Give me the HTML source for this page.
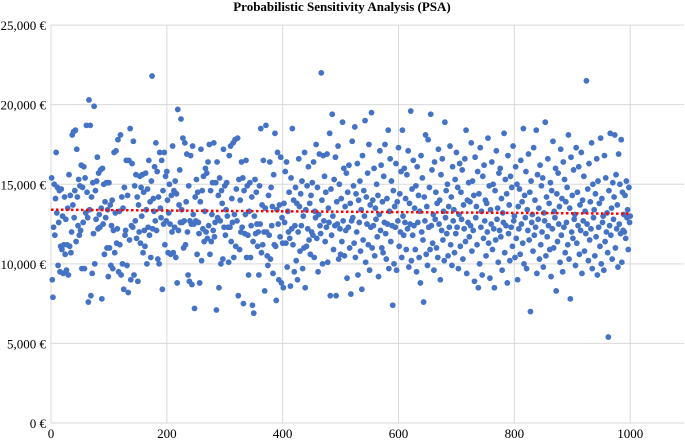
<!DOCTYPE html>
<html><head><meta charset="utf-8"><style>
html,body{margin:0;padding:0;background:#fff;}
svg{display:block;font-family:"Liberation Serif",serif;}
</style></head><body>
<svg id="chart" width="685" height="441">
<text x="342" y="11" text-anchor="middle" font-size="13" font-weight="bold">Probabilistic Sensitivity Analysis (PSA)</text>
<g id="grid"></g><g id="pts"></g><g id="trend"></g><g id="labels"></g>
</svg>
<script>
const xTicks=[0,200,400,600,800,1000];
const yTicks=[0,5000,10000,15000,20000,25000];
const yTickLabels=["0 €","5,000 €","10,000 €","15,000 €","20,000 €","25,000 €"];
const iterations=1000;
const trendStart=13400, trendEnd=13150;
const costs=[
15.4,9.0,7.9,12.3,15.0,11.8,14.1,17.0,13.2,14.8,9.9,12.6,14.6,9.5,11.1,14.7,10.9,13.0,9.4,11.2,14.2,10.6,12.8,9.6,11.2,
13.5,9.3,15.6,11.1,14.3,10.7,12.0,18.1,13.7,18.3,12.9,14.6,18.4,11.4,17.2,14.2,12.4,15.3,11.8,14.9,12.1,16.2,9.7,14.8,12.6,
16.1,9.7,15.4,13.2,18.7,14.5,12.9,7.6,20.3,13.4,18.7,8.0,14.2,9.4,15.1,11.9,19.9,10.0,14.6,12.8,15.2,16.7,12.2,15.7,13.1,
12.3,15.9,13.5,7.8,16.0,12.5,15.0,10.6,13.9,12.9,15.1,11.0,13.4,9.2,15.1,11.0,13.7,9.9,12.4,14.0,9.7,12.1,17.0,10.7,13.2,
17.1,11.3,12.2,17.8,9.5,13.3,11.2,18.1,9.3,14.2,10.0,13.5,8.4,14.8,11.8,12.1,16.5,9.9,14.3,8.2,16.5,11.5,18.5,9.0,12.4,
16.3,12.3,17.7,9.3,14.9,12.7,15.6,11.6,14.2,8.9,13.7,12.0,15.5,11.3,14.8,13.0,15.6,10.7,14.5,12.1,11.1,15.7,13.4,10.0,14.7,
12.3,16.5,11.8,13.9,10.4,15.2,21.8,12.2,14.1,13.3,16.1,12.7,17.6,12.1,15.8,10.3,14.2,10.0,17.0,13.5,12.9,16.5,8.4,14.6,12.5,
17.0,11.2,15.5,12.7,15.8,14.0,10.7,13.2,15.0,12.5,10.6,14.3,12.0,17.4,10.7,14.6,12.3,15.2,10.4,14.4,8.8,19.7,12.1,13.7,15.9,
12.6,19.1,13.4,12.6,17.9,11.0,12.7,17.6,11.2,13.9,16.9,12.0,9.3,14.9,8.9,12.7,16.8,12.5,8.7,17.4,13.1,12.5,7.2,14.2,12.7,
15.3,10.6,14.5,12.6,11.9,8.8,13.9,17.2,10.2,14.6,12.2,15.5,11.4,13.3,16.0,12.0,15.7,11.6,16.4,12.4,17.5,10.6,14.6,11.4,13.1,
15.1,12.1,17.6,11.7,12.6,15.1,7.1,16.4,12.9,14.3,8.5,15.4,12.7,10.0,14.6,13.8,10.3,17.2,12.3,14.9,11.8,13.4,15.1,13.0,12.3,
10.1,16.8,12.3,17.4,11.4,14.1,12.6,17.6,10.4,13.1,17.8,11.1,14.7,12.7,17.9,8.0,15.3,10.9,14.0,12.0,16.4,12.3,15.4,7.5,14.6,
11.9,13.1,16.5,10.4,14.9,11.8,9.3,13.3,15.1,10.4,12.4,14.2,7.4,11.4,6.9,13.0,15.3,11.9,14.5,12.5,11.1,12.0,9.3,14.9,12.5,
18.5,10.7,13.7,11.2,16.5,12.0,8.3,13.5,18.7,12.0,10.5,9.9,14.3,11.8,16.4,10.3,14.8,12.4,13.6,9.4,15.6,11.2,18.2,11.1,7.7,
13.4,17.0,12.5,9.0,13.7,11.7,16.7,8.8,12.9,11.3,8.5,13.8,12.6,15.8,11.3,16.4,9.8,13.3,12.0,14.5,11.6,8.6,15.4,12.2,18.5,
11.2,14.0,9.5,12.4,14.8,10.2,13.8,9.0,12.0,16.6,13.6,10.8,14.4,12.4,15.2,9.7,13.0,11.0,17.0,8.5,13.4,11.1,14.9,12.2,16.1,
11.5,13.8,10.6,14.3,12.0,15.1,11.8,16.4,10.4,13.3,12.9,17.5,11.6,14.8,9.5,13.1,16.9,12.4,11.9,22.0,14.0,10.0,16.8,12.7,15.5,
11.4,14.5,12.3,16.9,10.1,13.5,12.6,18.2,8.0,14.7,11.8,19.4,13.0,10.9,15.3,12.4,16.7,8.0,13.9,12.5,17.4,10.3,15.0,12.2,10.6,
14.1,11.4,18.9,12.7,16.0,10.5,13.6,12.1,15.7,9.1,14.5,12.3,16.2,11.0,13.8,8.1,12.7,17.7,12.9,14.9,11.3,18.6,10.4,14.4,12.0,
16.3,9.3,14.0,12.6,15.2,10.8,13.4,8.4,16.8,11.5,14.6,13.0,19.0,10.1,14.2,12.5,15.7,11.2,17.5,9.6,13.7,12.3,19.5,11.0,14.0,
12.4,16.0,10.5,13.5,12.8,15.0,11.7,14.3,9.2,13.1,17.1,12.1,16.2,11.0,13.9,10.7,15.5,12.6,17.5,11.9,10.3,14.1,12.5,18.4,9.7,
13.3,16.6,11.4,15.2,12.4,7.4,14.6,10.0,13.6,12.3,16.3,9.6,13.9,12.7,17.3,11.1,14.4,12.0,15.8,10.4,18.4,13.0,11.8,16.0,12.6,
14.1,10.9,15.6,12.2,17.1,9.8,13.8,12.5,19.6,10.2,14.7,11.8,16.5,12.4,13.5,10.9,14.9,9.5,16.1,12.6,14.3,10.4,13.3,8.8,16.8,
12.0,15.4,11.5,7.6,14.2,12.7,18.1,10.6,13.6,9.9,17.8,12.3,14.8,10.9,19.4,12.4,15.9,11.3,13.1,9.6,16.4,12.8,14.5,11.0,13.8,
10.4,17.2,12.5,14.0,9.0,15.6,12.1,16.6,11.5,13.3,10.2,18.9,12.9,14.6,11.9,15.0,10.5,13.6,12.3,17.4,11.2,14.2,9.9,16.1,12.7,
13.4,10.7,15.3,11.9,17.0,12.3,14.8,9.7,13.1,16.3,11.1,14.5,12.8,15.9,10.3,13.7,12.2,16.6,11.4,18.4,9.4,14.0,12.6,15.1,11.7,
13.9,12.4,17.6,10.8,15.2,12.1,14.3,8.9,16.7,12.9,13.6,11.2,15.8,8.5,14.4,10.0,17.3,12.3,13.3,9.3,15.5,11.6,16.2,12.7,14.0,
10.5,13.8,12.0,17.9,11.3,14.9,9.1,13.4,12.5,16.4,10.9,15.0,12.2,8.5,14.6,11.5,17.1,12.8,13.5,10.1,15.7,12.1,16.0,11.7,14.1,
9.6,13.2,12.6,18.2,10.7,15.3,12.4,14.4,8.8,16.8,11.9,13.7,10.2,15.5,12.3,14.8,11.1,17.4,12.7,13.0,10.4,16.1,11.6,15.0,9.0,
13.6,12.2,14.7,10.6,16.5,12.5,13.9,11.3,18.5,10.0,14.3,12.9,15.8,9.7,13.4,12.1,16.9,11.5,14.5,7.0,15.2,12.6,13.1,10.8,17.3,
11.8,14.0,12.3,18.4,9.4,15.6,12.8,13.5,10.3,16.2,11.2,14.9,12.0,15.4,9.8,13.2,12.7,18.9,10.5,14.2,11.7,16.6,12.4,13.8,10.9,
15.1,9.2,14.6,12.2,17.7,11.0,13.3,12.9,16.0,8.3,14.4,11.4,15.7,12.5,13.6,10.1,17.2,11.8,14.1,9.5,16.4,12.3,15.3,10.7,13.9,
12.6,14.8,11.2,18.1,10.3,13.5,7.8,16.7,12.0,14.3,11.6,15.9,12.8,13.1,9.9,17.3,11.3,14.5,12.4,16.1,10.6,13.7,12.1,17.0,9.4,
14.0,12.7,15.5,10.8,13.3,11.9,21.5,12.5,14.7,10.2,16.3,11.5,13.9,12.2,17.6,9.7,15.0,12.9,13.4,10.5,14.4,11.7,16.6,9.3,15.2,
12.3,13.8,11.1,17.9,10.0,14.1,12.6,13.0,9.6,16.8,11.4,15.4,12.0,13.2,10.7,5.4,14.6,12.4,18.2,11.8,13.5,10.3,15.1,12.8,14.2,
18.1,11.0,15.6,12.2,13.7,9.8,16.9,12.5,15.0,11.9,17.8,10.1,14.5,12.1,13.1,12.0,14.3,11.6,15.2,12.9,13.4,10.9,14.8,12.6,13.0
];
const sx=v=>51+v*0.5792, sy=v=>423-v*0.015916;
const NS="http://www.w3.org/2000/svg";
const grid=document.getElementById('grid'), labels=document.getElementById('labels');
function mk(tag,attrs,parent){const e=document.createElementNS(NS,tag);for(const k in attrs)e.setAttribute(k,attrs[k]);parent.appendChild(e);return e;}
yTicks.forEach((t,i)=>{
  const l=mk('line',{x1:51,x2:684,y1:sy(t),y2:sy(t),stroke:'#d9d9d9','stroke-width':1},grid);
  
  
  const tx=mk('text',{x:46,y:sy(t)+5,'text-anchor':'end','font-size':13},labels);
  tx.textContent=yTickLabels[i];
  
  
});
xTicks.forEach(t=>{
  const l=mk('line',{x1:sx(t),x2:sx(t),y1:sy(25000),y2:sy(0),stroke:'#d9d9d9','stroke-width':1},grid);
  
  
  const tx=mk('text',{x:sx(t),y:438,'text-anchor':'middle','font-size':13},labels);
  tx.textContent=t;
  
  
});
const pts=document.getElementById('pts');
costs.forEach((c,i)=>{
  const p=mk('circle',{cx:sx((i+1)*iterations/costs.length),cy:sy(c*1000),r:2.9,fill:'#4472c4'},pts);
  
  
});
const tr=mk('line',{x1:sx(0),y1:sy(trendStart),x2:sx(iterations),y2:sy(trendEnd),stroke:'#ff0000','stroke-width':2.5,'stroke-dasharray':'2.5 2.5'},document.getElementById('trend'));


</script>
</body></html>
